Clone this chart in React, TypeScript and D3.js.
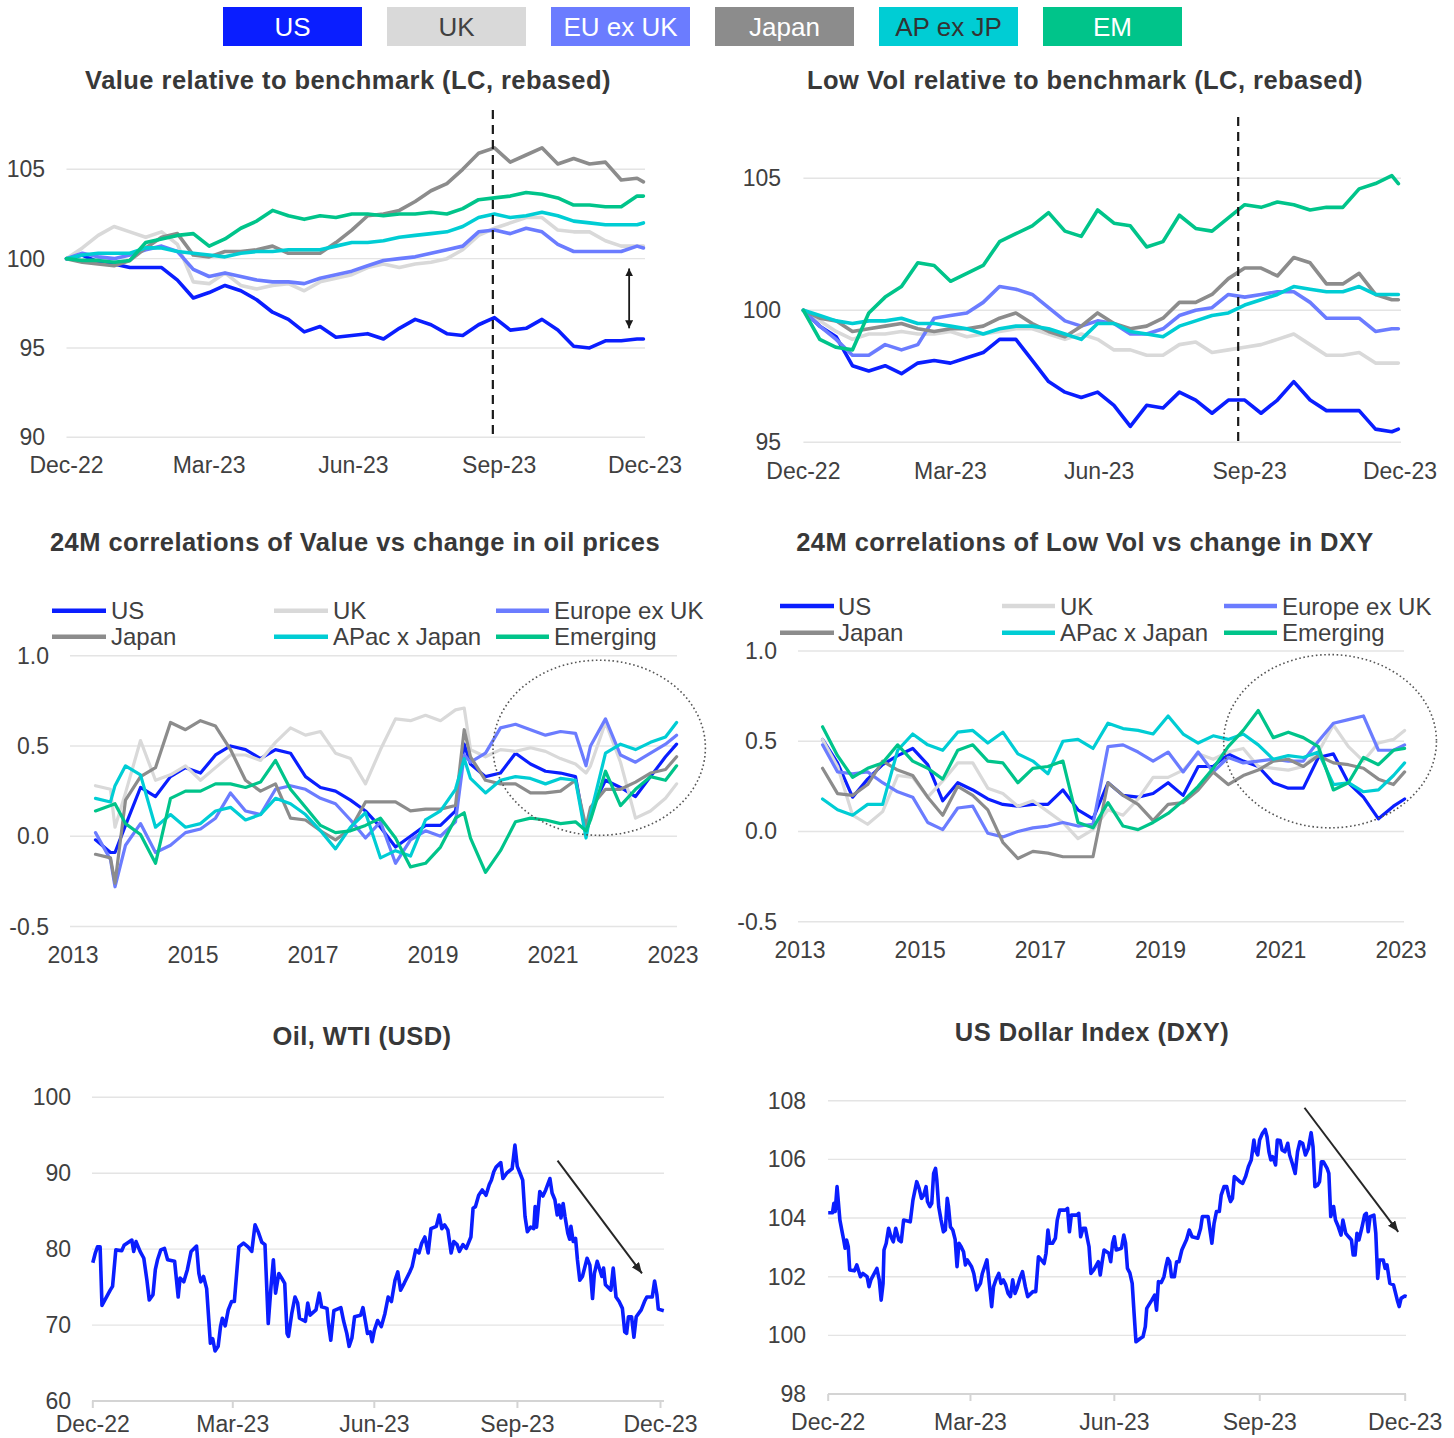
import React from 'react';
import * as d3 from 'd3';

// ---------------- DATA ----------------
const REGIONS = ['US', 'UK', 'EU ex UK', 'Japan', 'AP ex JP', 'EM'];
const CORR_LABELS = ['US', 'UK', 'Europe ex UK', 'Japan', 'APac x Japan', 'Emerging'];
const MONTH_TICK_LABELS = ['Dec-22', 'Mar-23', 'Jun-23', 'Sep-23', 'Dec-23'];
const MONTH_TICK_DAYS = [0, 90, 181, 273, 365];
const YEAR_TICKS = [2013, 2015, 2017, 2019, 2021, 2023];

// days since 30-Dec-2022
const DAYS_P12 = [0, 10, 20, 30, 40, 50, 60, 70, 80, 90, 100, 110, 120, 130, 140, 150, 160, 170, 180, 190, 200, 210, 220, 230, 240, 250, 260, 270, 280, 290, 300, 310, 320, 330, 340, 350, 360, 364];

// Value relative to benchmark
const P1_US = [100.0, 100.2, 99.8, 99.7, 99.5, 99.5, 99.5, 98.8, 97.8, 98.1, 98.5, 98.2, 97.7, 97.0, 96.6, 95.9, 96.2, 95.6, 95.7, 95.8, 95.5, 96.1, 96.6, 96.3, 95.8, 95.7, 96.3, 96.7, 96.0, 96.1, 96.6, 96.0, 95.1, 95.0, 95.4, 95.4, 95.5, 95.5];
const P1_UK = [100.0, 100.6, 101.3, 101.8, 101.5, 101.2, 101.5, 100.8, 98.7, 98.6, 99.2, 98.5, 98.3, 98.5, 98.6, 98.2, 98.7, 98.9, 99.1, 99.5, 99.7, 99.5, 99.7, 99.8, 100.0, 100.5, 101.3, 101.7, 102.0, 102.3, 102.3, 101.6, 101.5, 101.5, 101.0, 100.7, 100.7, 100.7];
const P1_EU = [100.0, 100.3, 100.1, 100.0, 100.2, 100.5, 100.7, 100.4, 99.4, 99.0, 99.2, 99.0, 98.8, 98.7, 98.7, 98.6, 98.9, 99.1, 99.3, 99.6, 99.9, 100.0, 100.1, 100.3, 100.5, 100.7, 101.5, 101.6, 101.4, 101.7, 101.5, 100.8, 100.4, 100.4, 100.4, 100.4, 100.7, 100.6];
const P1_JP = [100.0, 99.8, 99.7, 99.6, 99.9, 100.6, 101.2, 101.4, 100.2, 100.1, 100.4, 100.4, 100.5, 100.7, 100.3, 100.3, 100.3, 100.9, 101.6, 102.4, 102.5, 102.7, 103.2, 103.8, 104.2, 105.0, 105.9, 106.2, 105.4, 105.8, 106.2, 105.3, 105.6, 105.3, 105.4, 104.4, 104.5, 104.3];
const P1_AP = [100.0, 100.2, 100.3, 100.3, 100.3, 100.6, 100.6, 100.4, 100.3, 100.2, 100.1, 100.3, 100.4, 100.4, 100.5, 100.5, 100.5, 100.7, 100.9, 100.9, 101.0, 101.2, 101.3, 101.4, 101.5, 101.8, 102.3, 102.5, 102.3, 102.4, 102.6, 102.4, 102.1, 102.0, 101.9, 101.9, 101.9, 102.0];
const P1_EM = [100.0, 99.9, 99.9, 99.8, 99.9, 100.9, 101.1, 101.3, 101.4, 100.7, 101.1, 101.7, 102.1, 102.7, 102.4, 102.2, 102.4, 102.3, 102.5, 102.5, 102.4, 102.5, 102.5, 102.6, 102.5, 102.8, 103.3, 103.4, 103.5, 103.7, 103.6, 103.4, 103.0, 103.0, 102.9, 102.9, 103.5, 103.5];

// Low Vol relative to benchmark
const P2_US = [100.0, 99.4, 99.0, 97.9, 97.7, 97.9, 97.6, 98.0, 98.1, 98.0, 98.2, 98.4, 98.9, 98.9, 98.1, 97.3, 96.9, 96.7, 96.9, 96.4, 95.6, 96.4, 96.3, 96.9, 96.6, 96.1, 96.6, 96.6, 96.1, 96.6, 97.3, 96.6, 96.2, 96.2, 96.2, 95.5, 95.4, 95.5];
const P2_UK = [100.0, 99.6, 99.2, 98.9, 99.1, 99.1, 99.2, 99.1, 99.1, 99.2, 99.0, 99.1, 99.2, 99.3, 99.3, 99.1, 98.9, 99.1, 98.9, 98.5, 98.5, 98.3, 98.3, 98.7, 98.8, 98.4, 98.5, 98.6, 98.7, 98.9, 99.1, 98.7, 98.3, 98.3, 98.4, 98.0, 98.0, 98.0];
const P2_EU = [100.0, 99.4, 98.9, 98.3, 98.3, 98.7, 98.5, 98.7, 99.7, 99.8, 99.9, 100.3, 100.9, 100.8, 100.6, 100.1, 99.6, 99.4, 99.6, 99.5, 99.1, 99.1, 99.3, 99.8, 100.0, 100.1, 100.6, 100.5, 100.6, 100.7, 100.7, 100.3, 99.7, 99.7, 99.7, 99.2, 99.3, 99.3];
const P2_JP = [100.0, 99.7, 99.6, 99.2, 99.3, 99.4, 99.5, 99.3, 99.2, 99.3, 99.3, 99.4, 99.7, 99.9, 99.5, 99.2, 99.0, 99.4, 99.9, 99.5, 99.3, 99.4, 99.7, 100.3, 100.3, 100.6, 101.2, 101.6, 101.6, 101.3, 102.0, 101.8, 101.0, 101.0, 101.4, 100.6, 100.4, 100.4];
const P2_AP = [100.0, 99.8, 99.6, 99.5, 99.6, 99.6, 99.7, 99.5, 99.5, 99.4, 99.3, 99.1, 99.3, 99.4, 99.4, 99.3, 99.1, 98.9, 99.5, 99.5, 99.2, 99.1, 99.0, 99.4, 99.6, 99.8, 99.9, 100.2, 100.4, 100.6, 100.9, 100.8, 100.7, 100.7, 100.9, 100.6, 100.6, 100.6];
const P2_EM = [100.0, 98.9, 98.6, 98.5, 99.9, 100.5, 100.9, 101.8, 101.7, 101.1, 101.4, 101.7, 102.6, 102.9, 103.2, 103.7, 103.0, 102.8, 103.8, 103.3, 103.2, 102.4, 102.6, 103.6, 103.1, 103.0, 103.5, 104.0, 103.9, 104.1, 104.0, 103.8, 103.9, 103.9, 104.6, 104.8, 105.1, 104.8];

// 24M correlations of Value vs oil
const YEARS_P3 = [2013.375, 2013.625, 2013.7, 2013.875, 2014.125, 2014.375, 2014.625, 2014.875, 2015.125, 2015.375, 2015.625, 2015.875, 2016.125, 2016.375, 2016.625, 2016.875, 2017.125, 2017.375, 2017.625, 2017.875, 2018.125, 2018.375, 2018.625, 2018.875, 2019.125, 2019.375, 2019.52, 2019.625, 2019.875, 2020.125, 2020.375, 2020.625, 2020.875, 2021.125, 2021.375, 2021.55, 2021.625, 2021.875, 2022.125, 2022.375, 2022.625, 2022.875, 2023.06];
const P3_US = [-0.02, -0.09, -0.09, 0.06, 0.27, 0.22, 0.33, 0.38, 0.35, 0.45, 0.50, 0.48, 0.43, 0.48, 0.46, 0.33, 0.27, 0.25, 0.20, 0.14, 0.05, -0.06, 0.00, 0.06, 0.06, 0.14, 0.51, 0.40, 0.33, 0.35, 0.46, 0.40, 0.36, 0.35, 0.33, 0.01, 0.14, 0.31, 0.27, 0.22, 0.33, 0.44, 0.51];
const P3_UK = [0.28, 0.26, 0.05, 0.24, 0.53, 0.31, 0.34, 0.39, 0.31, 0.38, 0.45, 0.45, 0.42, 0.52, 0.60, 0.56, 0.58, 0.46, 0.43, 0.29, 0.48, 0.65, 0.64, 0.67, 0.64, 0.70, 0.71, 0.48, 0.44, 0.48, 0.47, 0.49, 0.47, 0.43, 0.40, 0.35, 0.39, 0.63, 0.41, 0.10, 0.14, 0.21, 0.29];
const P3_EU = [0.02, -0.13, -0.28, -0.05, 0.07, -0.09, -0.05, 0.02, 0.04, 0.10, 0.24, 0.14, 0.12, 0.26, 0.28, 0.26, 0.21, 0.18, 0.09, -0.01, 0.08, -0.15, -0.02, 0.03, 0.00, 0.08, 0.45, 0.41, 0.46, 0.60, 0.62, 0.59, 0.56, 0.58, 0.57, 0.39, 0.50, 0.65, 0.45, 0.41, 0.46, 0.51, 0.56];
const P3_JP = [-0.10, -0.12, -0.26, 0.20, 0.33, 0.38, 0.63, 0.59, 0.64, 0.61, 0.48, 0.31, 0.25, 0.29, 0.10, 0.09, 0.03, -0.02, 0.04, 0.19, 0.19, 0.19, 0.14, 0.15, 0.15, 0.17, 0.59, 0.44, 0.31, 0.29, 0.29, 0.24, 0.24, 0.25, 0.31, 0.05, 0.16, 0.26, 0.26, 0.30, 0.35, 0.37, 0.44];
const P3_AP = [0.21, 0.19, 0.28, 0.39, 0.34, 0.05, 0.12, 0.05, 0.07, 0.14, 0.16, 0.09, 0.12, 0.21, 0.18, 0.12, 0.03, -0.07, 0.05, 0.13, -0.12, -0.08, -0.11, 0.09, 0.14, 0.26, 0.43, 0.32, 0.24, 0.31, 0.33, 0.32, 0.29, 0.32, 0.31, -0.01, 0.12, 0.46, 0.51, 0.48, 0.52, 0.55, 0.63];
const P3_EM = [0.14, 0.17, 0.18, 0.07, 0.01, -0.15, 0.21, 0.25, 0.25, 0.29, 0.29, 0.27, 0.30, 0.42, 0.26, 0.16, 0.06, 0.02, 0.03, 0.06, 0.10, -0.01, -0.17, -0.15, -0.06, 0.10, 0.13, -0.01, -0.20, -0.08, 0.08, 0.10, 0.09, 0.07, 0.08, 0.03, 0.09, 0.36, 0.17, 0.26, 0.33, 0.31, 0.39];

// 24M correlations of Low Vol vs DXY
const YEARS_P4 = [2013.375, 2013.625, 2013.875, 2014.125, 2014.375, 2014.625, 2014.875, 2015.125, 2015.375, 2015.625, 2015.875, 2016.125, 2016.375, 2016.625, 2016.875, 2017.125, 2017.375, 2017.625, 2017.875, 2018.125, 2018.375, 2018.625, 2018.875, 2019.125, 2019.375, 2019.625, 2019.875, 2020.125, 2020.375, 2020.625, 2020.875, 2021.125, 2021.375, 2021.625, 2021.875, 2022.125, 2022.375, 2022.625, 2022.875, 2023.06];
const P4_US = [0.51, 0.38, 0.19, 0.29, 0.37, 0.42, 0.46, 0.37, 0.17, 0.27, 0.23, 0.18, 0.15, 0.14, 0.15, 0.15, 0.23, 0.12, 0.07, 0.27, 0.20, 0.19, 0.21, 0.27, 0.20, 0.36, 0.36, 0.43, 0.39, 0.36, 0.27, 0.24, 0.24, 0.41, 0.43, 0.27, 0.19, 0.07, 0.14, 0.18];
const P4_UK = [0.51, 0.36, 0.09, 0.04, 0.11, 0.31, 0.30, 0.19, 0.28, 0.38, 0.38, 0.24, 0.21, 0.14, 0.17, 0.11, 0.05, -0.04, 0.01, 0.12, 0.09, 0.18, 0.30, 0.30, 0.34, 0.43, 0.40, 0.44, 0.46, 0.36, 0.35, 0.34, 0.36, 0.44, 0.59, 0.47, 0.39, 0.49, 0.51, 0.56];
const P4_EU = [0.48, 0.33, 0.32, 0.33, 0.27, 0.22, 0.19, 0.05, 0.01, 0.13, 0.14, -0.01, -0.03, 0.00, 0.02, 0.03, 0.05, 0.03, 0.04, 0.47, 0.48, 0.44, 0.39, 0.44, 0.33, 0.44, 0.33, 0.41, 0.38, 0.39, 0.40, 0.39, 0.39, 0.50, 0.60, 0.62, 0.64, 0.45, 0.45, 0.48];
const P4_JP = [0.35, 0.21, 0.20, 0.26, 0.39, 0.34, 0.31, 0.19, 0.09, 0.25, 0.20, 0.12, -0.06, -0.15, -0.11, -0.12, -0.14, -0.14, -0.14, 0.27, 0.20, 0.15, 0.06, 0.15, 0.16, 0.23, 0.33, 0.26, 0.31, 0.34, 0.39, 0.40, 0.36, 0.42, 0.38, 0.37, 0.35, 0.29, 0.26, 0.33];
const P4_AP = [0.18, 0.12, 0.09, 0.15, 0.15, 0.45, 0.54, 0.48, 0.45, 0.55, 0.56, 0.49, 0.55, 0.43, 0.39, 0.32, 0.50, 0.51, 0.46, 0.60, 0.57, 0.56, 0.54, 0.64, 0.54, 0.49, 0.53, 0.51, 0.54, 0.48, 0.40, 0.42, 0.41, 0.44, 0.26, 0.27, 0.22, 0.23, 0.31, 0.38];
const P4_EM = [0.58, 0.42, 0.30, 0.35, 0.38, 0.48, 0.39, 0.35, 0.29, 0.45, 0.48, 0.39, 0.38, 0.27, 0.35, 0.36, 0.39, 0.05, 0.02, 0.16, 0.03, 0.01, 0.05, 0.10, 0.17, 0.25, 0.35, 0.47, 0.56, 0.67, 0.52, 0.55, 0.52, 0.47, 0.23, 0.27, 0.41, 0.37, 0.45, 0.46];

// Oil, WTI (USD): [day since 30-Dec-2022, price]
const OIL: [number, number][] = [[0, 78.2], [1.5, 79.4], [3.0, 80.3], [4.7, 80.3], [5.9, 72.6], [11.2, 74.6], [12.7, 75.1], [14.8, 79.9], [18.6, 79.8], [20.1, 80.5], [25.1, 81.2], [26.3, 79.7], [27.8, 81.0], [30.4, 79.7], [32.8, 78.8], [34.8, 75.9], [36.3, 73.3], [38.7, 74.0], [40.2, 77.3], [41.6, 78.6], [43.7, 79.9], [46.1, 80.1], [48.1, 78.6], [52.6, 78.4], [54.9, 73.7], [56.1, 76.2], [58.5, 75.7], [60.8, 77.3], [63.2, 79.7], [66.7, 80.4], [68.2, 76.8], [69.4, 75.7], [71.2, 76.4], [73.2, 74.8], [75.6, 67.6], [77.1, 68.2], [78.6, 66.6], [80.6, 67.2], [82.1, 69.8], [83.3, 70.9], [85.1, 69.9], [87.1, 72.0], [89.2, 73.1], [91.0, 73.1], [93.9, 80.3], [96.9, 80.8], [99.8, 80.3], [102.2, 79.7], [104.3, 83.2], [106.3, 82.3], [108.7, 80.9], [110.7, 80.6], [112.8, 70.2], [114.6, 75.1], [116.1, 78.6], [117.5, 74.2], [119.6, 76.8], [121.4, 76.2], [123.4, 75.5], [124.9, 68.9], [125.8, 68.5], [127.9, 71.5], [130.0, 73.7], [131.7, 72.9], [132.9, 70.9], [136.7, 70.5], [138.2, 72.9], [139.7, 71.3], [143.5, 72.0], [145.6, 74.2], [147.1, 72.4], [150.6, 72.2], [151.5, 70.2], [153.0, 68.0], [155.0, 71.9], [159.5, 72.3], [161.3, 70.5], [163.3, 68.9], [164.8, 67.2], [166.6, 68.3], [168.3, 71.1], [172.2, 71.3], [173.7, 72.3], [175.1, 70.7], [176.6, 68.9], [178.4, 69.1], [179.6, 67.8], [181.0, 69.3], [183.1, 70.6], [185.5, 69.8], [187.8, 71.5], [189.9, 73.7], [192.0, 73.1], [194.3, 75.9], [196.1, 77.0], [197.9, 74.6], [200.2, 75.5], [203.8, 77.0], [205.3, 77.7], [207.6, 79.9], [209.7, 79.5], [211.5, 80.8], [213.5, 81.6], [215.6, 79.5], [217.4, 82.7], [220.9, 83.0], [222.7, 84.5], [224.4, 82.7], [226.2, 83.2], [228.3, 82.5], [230.4, 79.5], [232.1, 81.0], [234.2, 80.6], [235.7, 79.7], [238.0, 80.6], [240.1, 80.1], [243.1, 81.6], [244.5, 85.4], [246.0, 85.6], [248.1, 87.1], [250.4, 87.8], [252.8, 87.1], [254.9, 88.5], [256.3, 89.1], [257.8, 90.2], [259.3, 90.8], [262.3, 91.4], [263.7, 89.3], [266.1, 90.0], [269.6, 90.6], [270.5, 92.1], [271.4, 93.7], [272.9, 90.9], [274.7, 90.0], [276.4, 89.1], [277.9, 84.3], [279.4, 82.3], [281.5, 82.9], [283.5, 82.7], [284.4, 85.6], [285.3, 82.9], [287.4, 87.6], [289.4, 87.0], [291.2, 87.8], [293.9, 89.3], [295.3, 87.4], [297.1, 86.5], [298.6, 84.5], [299.8, 85.8], [301.0, 84.1], [302.4, 86.0], [303.6, 84.3], [305.4, 82.1], [306.6, 81.3], [307.4, 83.0], [308.9, 81.0], [310.4, 81.4], [311.6, 78.6], [313.1, 75.9], [314.8, 76.4], [317.8, 78.8], [319.6, 77.9], [321.3, 73.5], [322.5, 76.8], [324.3, 78.4], [327.3, 76.4], [328.4, 77.5], [329.6, 75.3], [333.1, 74.6], [334.6, 77.5], [336.4, 73.7], [338.4, 73.1], [340.5, 72.2], [342.0, 69.1], [343.2, 68.9], [344.4, 71.1], [346.4, 71.1], [347.9, 68.4], [349.4, 71.1], [352.6, 72.0], [354.7, 73.1], [356.2, 73.7], [359.7, 73.7], [361.2, 75.8], [362.7, 74.0], [363.6, 72.1], [367.1, 71.9]];

// US Dollar Index (DXY): [day since 30-Dec-2022, level]
const DXY: [number, number][] = [[0, 104.18], [2.7, 104.18], [3.6, 104.50], [4.4, 104.22], [5.6, 105.07], [6.5, 104.50], [7.4, 103.93], [8.6, 103.59], [9.8, 103.25], [10.7, 102.97], [11.6, 103.25], [12.7, 103.02], [13.6, 102.23], [16.6, 102.20], [18.1, 102.40], [20.4, 102.00], [21.9, 102.11], [24.6, 102.00], [25.8, 101.66], [27.0, 101.89], [30.8, 102.28], [32.3, 101.89], [33.5, 101.20], [34.7, 101.77], [35.3, 102.91], [36.7, 103.14], [38.2, 103.65], [39.7, 103.36], [41.2, 103.19], [42.7, 103.65], [44.7, 103.25], [46.2, 103.19], [47.7, 103.93], [51.9, 103.87], [53.6, 104.61], [56.0, 105.24], [57.5, 105.01], [59.0, 104.67], [60.4, 104.78], [61.9, 105.07], [62.8, 104.56], [64.3, 104.39], [65.5, 104.50], [66.7, 105.52], [67.9, 105.69], [68.7, 105.30], [69.9, 104.39], [71.4, 103.93], [72.9, 103.53], [74.1, 103.59], [75.3, 104.67], [76.1, 104.39], [77.3, 103.70], [78.8, 103.59], [80.3, 103.27], [81.5, 102.34], [82.7, 103.14], [84.1, 103.02], [85.6, 102.85], [86.8, 102.40], [88.0, 102.57], [90.7, 102.34], [92.1, 102.11], [93.9, 101.55], [96.3, 101.77], [97.5, 102.11], [99.3, 102.40], [100.4, 102.57], [101.9, 101.77], [103.4, 100.98], [104.6, 101.66], [106.4, 101.94], [107.9, 102.11], [109.3, 101.77], [110.8, 101.89], [112.3, 101.72], [113.8, 101.43], [115.3, 101.32], [116.7, 101.89], [118.2, 101.43], [119.4, 101.60], [121.2, 101.94], [122.9, 102.17], [124.7, 101.66], [126.2, 101.32], [129.5, 101.49], [131.3, 101.49], [133.0, 102.68], [134.8, 102.57], [136.6, 102.45], [137.8, 102.80], [139.0, 103.59], [140.1, 103.14], [141.9, 103.14], [143.7, 103.31], [144.9, 103.93], [146.4, 104.27], [149.9, 104.27], [151.4, 104.33], [152.6, 103.53], [153.8, 104.10], [157.3, 104.10], [158.5, 104.16], [159.7, 103.36], [161.2, 103.65], [162.7, 103.65], [163.9, 103.31], [165.0, 103.02], [166.2, 102.11], [168.0, 102.23], [170.9, 102.51], [172.1, 102.06], [173.3, 102.51], [174.5, 102.91], [177.5, 102.80], [178.7, 102.51], [179.9, 103.14], [181.0, 103.36], [182.2, 102.91], [185.5, 102.97], [187.0, 103.42], [188.1, 103.14], [189.3, 102.28], [190.8, 102.13], [192.3, 101.77], [193.5, 100.75], [194.7, 99.78], [197.6, 99.90], [199.1, 99.95], [200.6, 100.30], [201.5, 100.92], [204.7, 101.20], [206.5, 101.37], [207.7, 100.86], [208.9, 101.83], [210.7, 101.80], [212.4, 102.00], [213.6, 102.34], [214.8, 102.62], [216.0, 102.51], [217.2, 102.00], [219.0, 102.00], [220.4, 102.51], [221.9, 102.51], [223.7, 102.91], [226.7, 103.27], [228.4, 103.59], [230.2, 103.36], [233.8, 103.31], [235.6, 103.65], [236.7, 104.05], [240.3, 104.05], [241.5, 103.59], [242.7, 103.14], [244.1, 103.82], [245.6, 104.22], [247.4, 104.22], [248.6, 104.78], [250.4, 105.07], [252.1, 105.07], [253.3, 104.78], [254.5, 104.56], [255.7, 104.67], [256.9, 105.41], [260.4, 105.24], [262.2, 105.18], [264.0, 105.41], [265.8, 105.75], [267.6, 105.98], [269.3, 106.66], [270.2, 106.32], [271.7, 106.15], [272.9, 106.66], [274.7, 106.89], [276.4, 107.02], [277.6, 106.77], [278.8, 106.26], [280.0, 105.98], [281.2, 106.09], [283.0, 105.81], [284.1, 106.66], [285.9, 106.64], [287.1, 106.32], [288.9, 106.26], [290.7, 106.55], [291.9, 106.15], [293.6, 105.86], [295.4, 105.52], [296.9, 106.26], [298.4, 106.60], [300.1, 106.55], [301.9, 106.15], [303.7, 106.37], [305.5, 106.91], [306.7, 106.43], [307.9, 105.07], [309.6, 105.12], [310.8, 105.24], [312.0, 105.92], [313.2, 105.92], [315.6, 105.69], [316.7, 105.52], [317.9, 104.05], [319.7, 104.39], [320.9, 103.93], [322.7, 103.70], [324.4, 103.42], [325.6, 103.93], [327.4, 103.48], [329.2, 103.36], [331.0, 103.25], [332.1, 102.74], [333.3, 102.74], [334.5, 103.48], [335.7, 103.25], [337.5, 103.65], [339.3, 104.10], [340.4, 104.16], [341.6, 103.53], [342.8, 104.05], [345.2, 104.10], [346.4, 103.48], [347.6, 101.94], [348.7, 102.57], [351.1, 102.57], [352.3, 102.28], [353.5, 102.40], [355.3, 101.77], [357.6, 101.72], [360.0, 101.20], [361.2, 100.98], [362.4, 101.26], [364.7, 101.34], [365.9, 101.32]];

// annotation anchors (data units)
const P1_DASH_DAY = 269;
const P2_DASH_DAY = 266;
const P1_ARROW = { day: 355, from: 99.45, to: 96.1 };
const OIL_ARROW = { d0: 298.8, v0: 91.66, d1: 353.1, v1: 76.8 };
const DXY_ARROW = { d0: 301.3, v0: 107.76, d1: 360.6, v1: 103.53 };
const P3_CIRCLE = { year: 2021.77, value: 0.49, rYear: 1.77, rValue: 0.485 };
const P4_CIRCLE = { year: 2021.82, value: 0.50, rYear: 1.77, rValue: 0.48 };

// ---------------- STYLE ----------------
const COLORS = ['#0A1EFF', '#D9D9D9', '#6B7CFF', '#8C8C8C', '#00CDD4', '#00C48A'];
const BOX_TEXT = ['#FFFFFF', '#404040', '#FFFFFF', '#FFFFFF', '#333333', '#FFFFFF'];
const FONT = "'Liberation Sans', Arial, Helvetica, sans-serif";
const TXT = '#404040';
const GRID = '#E4E4E4';

type Scale = d3.ScaleLinear<number, number>;

function pathOf(xs: number[], vs: number[], sx: Scale, sy: Scale): string {
  const n = Math.min(xs.length, vs.length);
  const pts: [number, number][] = [];
  for (let i = 0; i < n; i++) pts.push([xs[i], vs[i]]);
  return d3.line<[number, number]>().x(d => sx(d[0])).y(d => sy(d[1]))(pts) || '';
}
function pathOfPairs(pairs: [number, number][], sx: Scale, sy: Scale): string {
  return d3.line<[number, number]>().x(d => sx(d[0])).y(d => sy(d[1]))(pairs) || '';
}

function Title({ x, y, text }: { x: number; y: number; text: string }) {
  return (
    <text x={x} y={y} textAnchor="middle" fontFamily={FONT} fontWeight="bold" fontSize={25.5}
      fill="#383838" style={{ letterSpacing: '0.45px' }}>{text}</text>
  );
}

function YAxis({ ticks, sy, x1, x2, labelX, fmt }: { ticks: number[]; sy: Scale; x1: number; x2: number; labelX: number; fmt: (v: number) => string }) {
  return (
    <g>
      {ticks.map(t => (
        <line key={'g' + t} x1={x1} x2={x2} y1={sy(t)} y2={sy(t)} stroke={GRID} strokeWidth={1.4} />
      ))}
      {ticks.map(t => (
        <text key={'l' + t} x={labelX} y={sy(t) + 8} textAnchor="end" fontFamily={FONT} fontSize={23} fill={TXT}>{fmt(t)}</text>
      ))}
    </g>
  );
}

function XLabels({ ticks, labels, sx, y }: { ticks: number[]; labels: string[]; sx: Scale; y: number }) {
  return (
    <g>
      {ticks.map((t, i) => (
        <text key={i} x={sx(t)} y={y} textAnchor="middle" fontFamily={FONT} fontSize={23} fill={TXT}>{labels[i]}</text>
      ))}
    </g>
  );
}

function Lines({ xs, series, sx, sy, width }: { xs: number[]; series: number[][]; sx: Scale; sy: Scale; width: number }) {
  return (
    <g fill="none" strokeLinejoin="round" strokeLinecap="round">
      {series.map((s, i) => (
        <path key={i} d={pathOf(xs, s, sx, sy)} stroke={COLORS[i]} strokeWidth={width} />
      ))}
    </g>
  );
}

function CorrLegend({ lineX, textX, rows }: { lineX: [number, number][]; textX: number[]; rows: number[] }) {
  const items = CORR_LABELS.map((label, i) => ({ label, i, col: i % 3, row: Math.floor(i / 3) }));
  return (
    <g>
      {items.map(it => (
        <g key={it.i}>
          <line x1={lineX[it.col][0]} x2={lineX[it.col][1]} y1={rows[it.row]} y2={rows[it.row]}
            stroke={COLORS[it.i]} strokeWidth={4.5} />
          <text x={textX[it.col]} y={rows[it.row] + 8.5} fontFamily={FONT} fontSize={24} fill={TXT}>{it.label}</text>
        </g>
      ))}
    </g>
  );
}

export default function App() {
  // panel 1
  const x1 = d3.scaleLinear().domain([0, 365]).range([66.5, 645]);
  const y1 = d3.scaleLinear().domain([90, 105]).range([437.3, 169.3]);
  // panel 2
  const x2 = d3.scaleLinear().domain([0, 365]).range([803.4, 1400]);
  const y2 = d3.scaleLinear().domain([95, 105]).range([442.3, 178.3]);
  // panel 3
  const x3 = d3.scaleLinear().domain([2013, 2023]).range([73, 673]);
  const y3 = d3.scaleLinear().domain([-0.5, 1.0]).range([926.5, 655.7]);
  // panel 4
  const x4 = d3.scaleLinear().domain([2013, 2023]).range([800, 1401]);
  const y4 = d3.scaleLinear().domain([-0.5, 1.0]).range([921.7, 651]);
  // panel 5
  const x5 = d3.scaleLinear().domain([0, 365]).range([92.8, 660.5]);
  const y5 = d3.scaleLinear().domain([60, 100]).range([1401, 1097.3]);
  // panel 6
  const x6 = d3.scaleLinear().domain([0, 365]).range([828.2, 1405.2]);
  const y6 = d3.scaleLinear().domain([98, 108]).range([1394, 1100.7]);

  const fmtInt = (v: number) => String(Math.round(v));
  const fmt1 = (v: number) => v.toFixed(1);

  const p1 = [P1_US, P1_UK, P1_EU, P1_JP, P1_AP, P1_EM];
  const p2 = [P2_US, P2_UK, P2_EU, P2_JP, P2_AP, P2_EM];
  const p3 = [P3_US, P3_UK, P3_EU, P3_JP, P3_AP, P3_EM];
  const p4 = [P4_US, P4_UK, P4_EU, P4_JP, P4_AP, P4_EM];

  return (
    <svg width={1454} height={1438} viewBox="0 0 1454 1438"
      style={{ position: 'absolute', left: 0, top: 0, background: '#FFFFFF' }}>
      <defs>
        <marker id="arrSmall" markerUnits="userSpaceOnUse" markerWidth={9} markerHeight={9} refX={8} refY={4}
          orient="auto-start-reverse">
          <path d="M0,0 L8,4 L0,8 z" fill="#1A1A1A" />
        </marker>
        <marker id="arrBig" markerUnits="userSpaceOnUse" markerWidth={13} markerHeight={11} refX={11} refY={4.5}
          orient="auto">
          <path d="M0,0 L11,4.5 L0,9 z" fill="#262626" />
        </marker>
      </defs>
      <rect x={0} y={0} width={1454} height={1438} fill="#FFFFFF" />

      {/* top legend */}
      {REGIONS.map((r, i) => (
        <g key={r}>
          <rect x={223 + 164 * i} y={7} width={139} height={39} fill={COLORS[i]} />
          <text x={223 + 164 * i + 69.5} y={36} textAnchor="middle" fontFamily={FONT} fontSize={26}
            fill={BOX_TEXT[i]}>{r}</text>
        </g>
      ))}

      {/* ---------- Panel 1 ---------- */}
      <Title x={348} y={89} text="Value relative to benchmark (LC, rebased)" />
      <YAxis ticks={[90, 95, 100, 105]} sy={y1} x1={66.5} x2={645} labelX={45} fmt={fmtInt} />
      <XLabels ticks={MONTH_TICK_DAYS} labels={MONTH_TICK_LABELS} sx={x1} y={473} />
      <Lines xs={DAYS_P12} series={p1} sx={x1} sy={y1} width={3.6} />
      <line x1={x1(P1_DASH_DAY)} x2={x1(P1_DASH_DAY)} y1={110} y2={437} stroke="#1A1A1A" strokeWidth={2.2} strokeDasharray="9,6" />
      <line x1={x1(P1_ARROW.day)} x2={x1(P1_ARROW.day)} y1={y1(P1_ARROW.from)} y2={y1(P1_ARROW.to)}
        stroke="#1A1A1A" strokeWidth={1.8} markerStart="url(#arrSmall)" markerEnd="url(#arrSmall)" />

      {/* ---------- Panel 2 ---------- */}
      <Title x={1085} y={89} text="Low Vol relative to benchmark (LC, rebased)" />
      <YAxis ticks={[95, 100, 105]} sy={y2} x1={803.4} x2={1401} labelX={781} fmt={fmtInt} />
      <XLabels ticks={MONTH_TICK_DAYS} labels={MONTH_TICK_LABELS} sx={x2} y={479} />
      <Lines xs={DAYS_P12} series={p2} sx={x2} sy={y2} width={3.6} />
      <line x1={x2(P2_DASH_DAY)} x2={x2(P2_DASH_DAY)} y1={117} y2={445} stroke="#1A1A1A" strokeWidth={2.2} strokeDasharray="9,6" />

      {/* ---------- Panel 3 ---------- */}
      <Title x={355} y={551} text="24M correlations of Value vs change in oil prices" />
      <CorrLegend lineX={[[52, 106], [274, 328], [496, 549]]} textX={[111, 333, 554]} rows={[610.7, 636.7]} />
      <YAxis ticks={[-0.5, 0, 0.5, 1.0]} sy={y3} x1={70} x2={677} labelX={49} fmt={fmt1} />
      <XLabels ticks={YEAR_TICKS} labels={YEAR_TICKS.map(String)} sx={x3} y={963} />
      <Lines xs={YEARS_P3} series={p3} sx={x3} sy={y3} width={3.2} />
      <ellipse cx={x3(P3_CIRCLE.year)} cy={y3(P3_CIRCLE.value)}
        rx={x3(P3_CIRCLE.year + P3_CIRCLE.rYear) - x3(P3_CIRCLE.year)}
        ry={y3(P3_CIRCLE.value - P3_CIRCLE.rValue) - y3(P3_CIRCLE.value)}
        fill="none" stroke="#555555" strokeWidth={1.6} strokeDasharray="1.6,2.6" />

      {/* ---------- Panel 4 ---------- */}
      <Title x={1085} y={551} text="24M correlations of Low Vol vs change in DXY" />
      <CorrLegend lineX={[[780, 834], [1002, 1055], [1224, 1277]]} textX={[838, 1060, 1282]} rows={[606, 632.7]} />
      <YAxis ticks={[-0.5, 0, 0.5, 1.0]} sy={y4} x1={798} x2={1404} labelX={777} fmt={fmt1} />
      <XLabels ticks={YEAR_TICKS} labels={YEAR_TICKS.map(String)} sx={x4} y={957.5} />
      <Lines xs={YEARS_P4} series={p4} sx={x4} sy={y4} width={3.2} />
      <ellipse cx={x4(P4_CIRCLE.year)} cy={y4(P4_CIRCLE.value)}
        rx={x4(P4_CIRCLE.year + P4_CIRCLE.rYear) - x4(P4_CIRCLE.year)}
        ry={y4(P4_CIRCLE.value - P4_CIRCLE.rValue) - y4(P4_CIRCLE.value)}
        fill="none" stroke="#555555" strokeWidth={1.6} strokeDasharray="1.6,2.6" />

      {/* ---------- Panel 5 ---------- */}
      <Title x={362} y={1045} text="Oil, WTI (USD)" />
      <YAxis ticks={[70, 80, 90, 100]} sy={y5} x1={92} x2={664} labelX={71} fmt={fmtInt} />
      <line x1={92} x2={664} y1={y5(60)} y2={y5(60)} stroke="#D4D4D4" strokeWidth={2} />
      {MONTH_TICK_DAYS.map(t => (
        <line key={t} x1={x5(t)} x2={x5(t)} y1={y5(60)} y2={y5(60) + 7} stroke="#D4D4D4" strokeWidth={2} />
      ))}
      <text x={71} y={y5(60) + 8} textAnchor="end" fontFamily={FONT} fontSize={23} fill={TXT}>60</text>
      <XLabels ticks={MONTH_TICK_DAYS} labels={MONTH_TICK_LABELS} sx={x5} y={1432} />
      <path d={pathOfPairs(OIL, x5, y5)} fill="none" stroke={COLORS[0]} strokeWidth={3.6} strokeLinejoin="round" />
      <line x1={x5(OIL_ARROW.d0)} y1={y5(OIL_ARROW.v0)} x2={x5(OIL_ARROW.d1)} y2={y5(OIL_ARROW.v1)}
        stroke="#262626" strokeWidth={2} markerEnd="url(#arrBig)" />

      {/* ---------- Panel 6 ---------- */}
      <Title x={1092} y={1041} text="US Dollar Index (DXY)" />
      <YAxis ticks={[100, 102, 104, 106, 108]} sy={y6} x1={828} x2={1406} labelX={806} fmt={fmtInt} />
      <line x1={828} x2={1406} y1={y6(98)} y2={y6(98)} stroke="#D4D4D4" strokeWidth={2} />
      {MONTH_TICK_DAYS.map(t => (
        <line key={t} x1={x6(t)} x2={x6(t)} y1={y6(98)} y2={y6(98) + 7} stroke="#D4D4D4" strokeWidth={2} />
      ))}
      <text x={806} y={y6(98) + 8} textAnchor="end" fontFamily={FONT} fontSize={23} fill={TXT}>98</text>
      <XLabels ticks={MONTH_TICK_DAYS} labels={MONTH_TICK_LABELS} sx={x6} y={1430} />
      <path d={pathOfPairs(DXY, x6, y6)} fill="none" stroke={COLORS[0]} strokeWidth={3.6} strokeLinejoin="round" />
      <line x1={x6(DXY_ARROW.d0)} y1={y6(DXY_ARROW.v0)} x2={x6(DXY_ARROW.d1)} y2={y6(DXY_ARROW.v1)}
        stroke="#262626" strokeWidth={2} markerEnd="url(#arrBig)" />
    </svg>
  );
}
